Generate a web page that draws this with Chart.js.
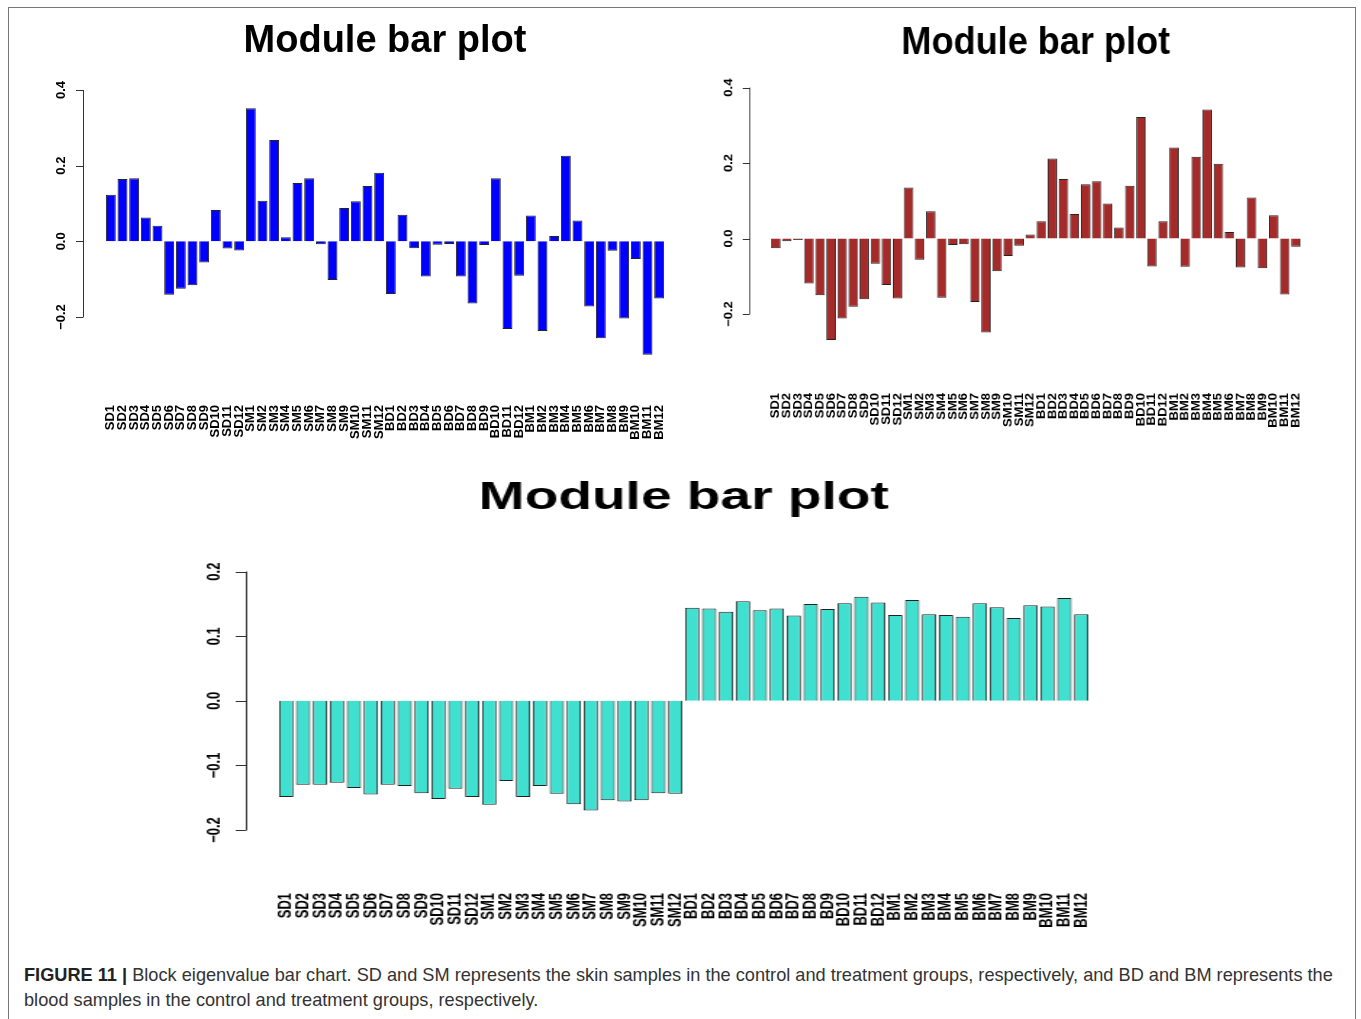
<!DOCTYPE html>
<html>
<head>
<meta charset="utf-8">
<script src="https://cdn.jsdelivr.net/npm/chart.js@4.4.1/dist/chart.umd.min.js"></script>
<style>
    body { margin: 0; background: #fff; width: 1361px; height: 1019px; overflow: hidden; position: relative; font-family: 'Liberation Sans', Arial, sans-serif; }
    .frame { position: absolute; left: 8px; top: 7px; width: 1346px; height: 1100px; border: 1px solid #777; }
    .panel { position: absolute; transform-origin: 0 0; }
    #p1 { left: 10px; top: 10px; width: 670px; height: 440px; }
    #p2 { left: 679.5px; top: 10px; width: 670px; height: 440px; transform: scaleX(0.95); }
    #p3 { left: 139.5px; top: 455px; width: 670px; height: 490px; transform: scaleX(1.45); }
    .caption { position: absolute; left: 24px; top: 963px; width: 1330px; font-size: 18.2px; line-height: 25px; color: #333; }
    .caption b { color: #222; }
</style>
</head>
<body>
<div class="frame"></div>
<div class="panel" id="p1"><canvas id="chart1"></canvas></div>
<div class="panel" id="p2"><canvas id="chart2"></canvas></div>
<div class="panel" id="p3"><canvas id="chart3"></canvas></div>
<div class="caption"><b>FIGURE 11 |</b> Block eigenvalue bar chart. SD and SM represents the skin samples in the control and treatment groups, respectively, and BD and BM represents the<br>blood samples in the control and treatment groups, respectively.</div>

<script>
// sample names (same for all three plots)
const sampleLabels = [
    'SD1', 'SD2', 'SD3', 'SD4', 'SD5', 'SD6', 'SD7', 'SD8', 'SD9', 'SD10', 'SD11', 'SD12',
    'SM1', 'SM2', 'SM3', 'SM4', 'SM5', 'SM6', 'SM7', 'SM8', 'SM9', 'SM10', 'SM11', 'SM12',
    'BD1', 'BD2', 'BD3', 'BD4', 'BD5', 'BD6', 'BD7', 'BD8', 'BD9', 'BD10', 'BD11', 'BD12',
    'BM1', 'BM2', 'BM3', 'BM4', 'BM5', 'BM6', 'BM7', 'BM8', 'BM9', 'BM10', 'BM11', 'BM12'
]

// blue module (top left)
const blueValues = [
    0.123, 0.165, 0.167, 0.063, 0.041, -0.141, -0.125, -0.116, -0.056, 0.083, -0.019, -0.024,
    0.352, 0.107, 0.268, 0.011, 0.154, 0.167, -0.008, -0.102, 0.088, 0.106, 0.146, 0.181,
    -0.139, 0.070, -0.018, -0.093, -0.009, -0.007, -0.093, -0.164, -0.010, 0.167, -0.232, -0.091,
    0.068, -0.237, 0.014, 0.226, 0.055, -0.172, -0.256, -0.025, -0.204, -0.047, -0.300, -0.151
]

// brown module (top right)
const brownValues = [
    -0.026, -0.007, -0.004, -0.119, -0.150, -0.269, -0.212, -0.181, -0.161, -0.067, -0.123, -0.159,
    0.135, -0.056, 0.072, -0.157, -0.017, -0.015, -0.168, -0.249, -0.087, -0.046, -0.019, 0.011,
    0.046, 0.212, 0.158, 0.065, 0.144, 0.152, 0.093, 0.029, 0.140, 0.322, -0.074, 0.046,
    0.241, -0.075, 0.217, 0.342, 0.198, 0.017, -0.077, 0.109, -0.079, 0.062, -0.148, -0.022
]

// turquoise module (bottom)
const turquoiseValues = [
    -0.149, -0.130, -0.130, -0.127, -0.135, -0.145, -0.130, -0.132, -0.143, -0.152, -0.136, -0.149,
    -0.161, -0.124, -0.149, -0.132, -0.144, -0.160, -0.170, -0.154, -0.156, -0.154, -0.143, -0.144,
    0.144, 0.143, 0.138, 0.154, 0.140, 0.143, 0.132, 0.150, 0.142, 0.151, 0.161, 0.152,
    0.133, 0.156, 0.134, 0.133, 0.130, 0.151, 0.145, 0.128, 0.148, 0.146, 0.159, 0.134
]

const plotTitle = 'Module bar plot'

Chart.defaults.font.family = "'Liberation Sans', Arial, sans-serif"
Chart.defaults.color = '#000'

// R style y axis: line only over the tick range, sitting left of the bars
const rAxis = {
    id: 'rAxis',
    afterDraw(chart, args, opts) {
        const y = chart.scales.y
        const ctx = chart.ctx
        const x0 = chart.chartArea.left - opts.gap
        ctx.save()
        ctx.strokeStyle = '#333'
        ctx.lineWidth = 1
        ctx.beginPath()
        ctx.moveTo(x0 + 0.5, y.getPixelForValue(y.max))
        ctx.lineTo(x0 + 0.5, y.getPixelForValue(y.min))
        y.ticks.forEach(t => {
            const py = Math.round(y.getPixelForValue(t.value)) + 0.5
            ctx.moveTo(x0 + 0.5, py)
            ctx.lineTo(x0 - opts.tick, py)
        })
        ctx.stroke()
        ctx.font = 'bold 13px ' + Chart.defaults.font.family
        ctx.fillStyle = '#000'
        ctx.textAlign = 'center'
        ctx.textBaseline = 'middle'
        y.ticks.forEach(t => {
            ctx.save()
            ctx.translate(x0 - opts.labelGap, y.getPixelForValue(t.value))
            ctx.rotate(-Math.PI / 2)
            ctx.fillText(t.value.toFixed(1).replace('-', '\u2212'), 0, 0)
            ctx.restore()
        })
        ctx.restore()
    }
}

function makeChart(id, values, color, yMin, yMax, step, layout) {
    return new Chart(document.getElementById(id), {
        type: 'bar',
        plugins: [rAxis],
        data: {
            labels: sampleLabels,
            datasets: [{
                data: values,
                backgroundColor: color,
                borderColor: '#222',
                borderWidth: 1,
                barPercentage: 0.85,
                categoryPercentage: 1,
                clip: false
            }]
        },
        options: {
            responsive: true,
            maintainAspectRatio: false,
            animation: false,
            layout: {
                padding: { left: 95, right: layout.right, top: 0, bottom: 0 }
            },
            scales: {
                x: {
                    // invisible tick marks push the names down (ticks.padding would also widen the sides)
                    grid: { display: true, drawOnChartArea: false, drawTicks: true, tickLength: layout.labelPad, tickColor: 'rgba(0,0,0,0)' },
                    border: { display: false },
                    ticks: {
                        autoSkip: false,
                        maxRotation: 90,
                        minRotation: 90,
                        padding: 0,
                        color: '#000',
                        font: { size: 13, weight: 'bold' }
                    },
                    afterFit: function (scale) {
                        scale.height = layout.axisHeight
                    }
                },
                y: {
                    display: false,
                    min: yMin,
                    max: yMax,
                    ticks: { stepSize: step }
                }
            },
            plugins: {
                legend: { display: false },
                tooltip: { enabled: false },
                title: {
                    display: true,
                    text: plotTitle,
                    color: '#000',
                    font: { size: 38, weight: 'bold' },
                    padding: { top: layout.titleTop, bottom: layout.titleBottom }
                },
                rAxis: { gap: 22, tick: 7, labelGap: 22 }
            }
        }
    })
}

var blueChart = makeChart('chart1', blueValues, '#0000ff', -0.2, 0.4, 0.2,
    { right: 15, labelPad: 88, axisHeight: 133, titleTop: 9, titleBottom: 25.4 })

var brownChart = makeChart('chart2', brownValues, '#a52a2a', -0.2, 0.4, 0.2,
    { right: 16, labelPad: 79, axisHeight: 136, titleTop: 11, titleBottom: 21 })

var turquoiseChart = makeChart('chart3', turquoiseValues, '#40e0d0', -0.2, 0.2, 0.1,
    { right: 15, labelPad: 63, axisHeight: 115, titleTop: 21, titleBottom: 50 })
</script>
</body>
</html>
